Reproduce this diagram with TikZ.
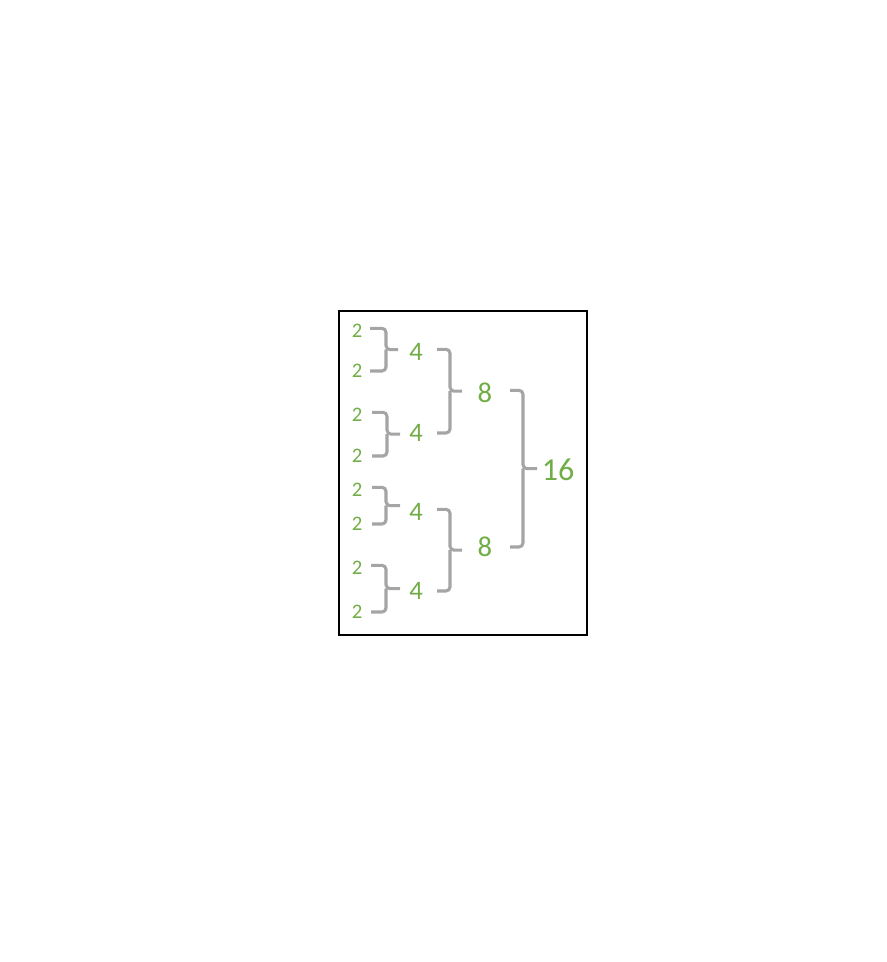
\documentclass[tikz,border=0pt]{standalone}
\usepackage{fontspec}
\setmainfont{Carlito}
\usetikzlibrary{calc}

\definecolor{countgreen}{HTML}{70AD47}
\definecolor{bracketgray}{HTML}{A5A5A5}

% bracket joining two counts: top node, bottom node, left x, stem x, tip x
\newcommand{\pairbracket}[5]{%
  \draw[bracketline] let \p1=(#1), \p2=(#2) in
    ({#3*0.75pt},\y1+2pt) -- ({#4*0.75pt},\y1+2pt) -- ({#4*0.75pt},{0.5*\y1+0.5*\y2+1pt}) -- ({#5*0.75pt},{0.5*\y1+0.5*\y2+1pt})
    ({#4*0.75pt},{0.5*\y1+0.5*\y2+1pt}) -- ({#4*0.75pt},\y2) -- ({#3*0.75pt},\y2);}

\begin{document}
\begin{tikzpicture}[x=0.75pt, y=-0.75pt,
            countnode/.style={text=countgreen, inner sep=0pt},
            twonode/.style={countnode, font=\fontsize{15.5}{17}\selectfont},
            fournode/.style={countnode, font=\fontsize{20}{22}\selectfont},
            eightnode/.style={countnode, font=\fontsize{21.5}{24}\selectfont},
            topnode/.style={countnode, font=\fontsize{24}{27}\selectfont},
            bracketline/.style={draw=bracketgray, line width=2.3pt, rounded corners=3pt},
        ]
            \useasboundingbox (0,0) rectangle (886,962);
            \draw[line width=1.2pt] (339,311) rectangle (587,635);

            %Nodes
            \node[twonode](t1) at (357,331) {2};
            \node[twonode](t2) at (357,371) {2};
            \node[twonode](t3) at (357,415) {2};
            \node[twonode](t4) at (357,456) {2};
            \node[twonode](t5) at (357,490) {2};
            \node[twonode](t6) at (357,524) {2};
            \node[twonode](t7) at (357,568) {2};
            \node[twonode](t8) at (357,612) {2};

            \node[fournode](f1) at (416,352) {4};
            \node[fournode](f2) at (416,433) {4};
            \node[fournode](f3) at (416,512) {4};
            \node[fournode](f4) at (416,591) {4};

            \node[eightnode](e1) at (485,393) {8};
            \node[eightnode](e2) at (485,547) {8};

            \node[topnode](s) at (558,470) {16};

            %Brackets
            \pairbracket{t1}{t2}{370}{386}{398}
            \pairbracket{t3}{t4}{372}{387}{400}
            \pairbracket{t5}{t6}{372}{386}{400}
            \pairbracket{t7}{t8}{371}{386}{400}
            \pairbracket{f1}{f2}{437}{450}{462}
            \pairbracket{f3}{f4}{437}{450}{462}
            \pairbracket{e1}{e2}{510}{523}{537}
        \end{tikzpicture}
\end{document}
